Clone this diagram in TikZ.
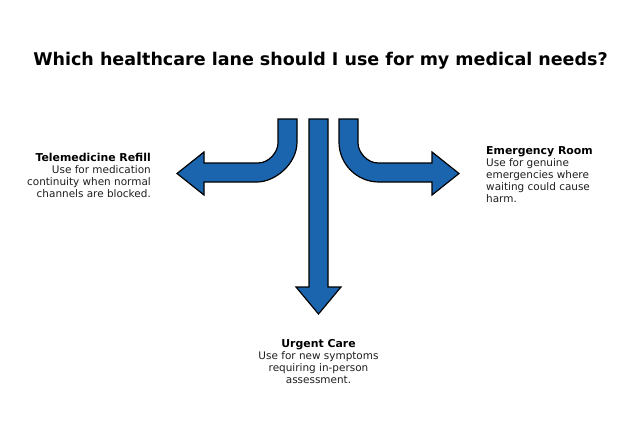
\documentclass[tikz,border=0pt]{standalone}
\usepackage{fontspec}
\setmainfont{DejaVu Sans}
\definecolor{arrowblue}{RGB}{27,101,175}
\definecolor{bodytext}{RGB}{30,30,30}
\begin{document}
\begin{tikzpicture}[x=1pt,y=-1pt,
  arrowshape/.style={fill=arrowblue,draw=black,line width=1.2pt,line join=miter},
  heading/.style={font=\fontsize{17.5}{22}\selectfont\bfseries},
  desc/.style={inner sep=0pt,text=bodytext,font=\fontsize{10.45}{12}\selectfont}]
\newcommand{\subhd}[1]{{\fontsize{10.9}{12}\selectfont\bfseries\color{black}#1}}
\useasboundingbox[fill=white] (0,0) rectangle (642,434);
\node[heading] (title) at (320.5,61) {Which healthcare lane should I use for my medical needs?};
% left arrow
\draw[arrowshape] (278,119) -- (297,119) -- (297,142)
  .. controls (297,164.1) and (274.9,182) .. (257,182)
  -- (204,182) -- (204,195) -- (177,173.5) -- (204,152) -- (204,163) -- (258,163)
  .. controls (269.05,163) and (278,151.95) .. (278,143) -- cycle;
% middle arrow
\draw[arrowshape] (309,119) -- (328,119) -- (328,287) -- (341,287) -- (318.5,314)
  -- (296,287) -- (309,287) -- cycle;
% right arrow
\draw[arrowshape] (339,119) -- (358,119) -- (358,143)
  .. controls (358,151.95) and (366.95,163) .. (378,163)
  -- (432,163) -- (432,152) -- (459,173.5) -- (432,195) -- (432,182) -- (379,182)
  .. controls (356.9,182) and (339,164.1) .. (339,142) -- cycle;
\node[desc,anchor=north east,align=right] (tele) at (151,153)
  {\subhd{Telemedicine Refill}\\Use for medication\\continuity when normal\\channels are blocked.};
\node[desc,anchor=north west,align=left] (er) at (486,146.5)
  {\subhd{Emergency Room}\\Use for genuine\\emergencies where\\waiting could cause\\harm.};
\node[desc,anchor=north,align=center] (uc) at (318.5,339.5)
  {\subhd{Urgent Care}\\Use for new symptoms\\requiring in-person\\assessment.};
\end{tikzpicture}
\end{document}
